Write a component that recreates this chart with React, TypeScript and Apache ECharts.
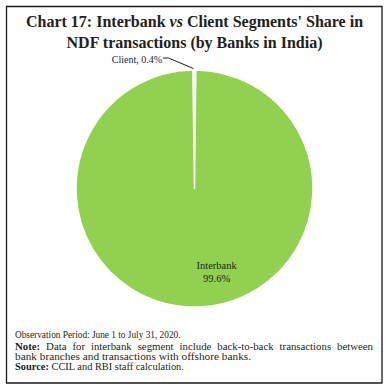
import React, { useEffect, useRef } from 'react';
import * as echarts from 'echarts';

const categories = ['Client', 'Interbank'];
const shares = [0.4, 99.6];
const sliceColors = ['#ffffff', '#92d050'];
const titleText = "Chart 17: Interbank {i|vs} Client Segments' Share in\nNDF transactions (by Banks in India)";
const noteLine1 = 'Observation Period: June 1 to July 31, 2020.';
const noteLead = 'Note:';
const noteLine2 = 'Data for interbank segment include back-to-back transactions between';
const noteLine3 = 'bank branches and transactions with offshore banks.';
const sourceLead = 'Source:';
const sourceText = 'CCIL and RBI staff calculation.';

const FONT = '"Liberation Serif", "DejaVu Serif", serif';
const INK = '#231f20';

function measure(text: string, weight: string, size: number) {
  const c = document.createElement('canvas').getContext('2d');
  if (!c) return text.length * size * 0.45;
  c.font = `${weight} ${size}px "Liberation Serif"`;
  return c.measureText(text).width;
}

export default function App() {
  const ref = useRef<HTMLDivElement>(null);
  useEffect(() => {
    if (!ref.current) return;
    const chart = echarts.init(ref.current, undefined, { renderer: 'svg' });
    const cx = 194.5, cy = 188.5, R = 118.5;
    const noteSize = 10.8;
    const LH = 9.5;
    const left = 15, right = 373;

    // justified second note line
    const words = [noteLead, ...noteLine2.split(' ')];
    const widths = words.map((w, i) => measure(w, i === 0 ? 'bold' : 'normal', noteSize));
    const total = widths.reduce((a, b) => a + b, 0);
    const gap = (right - left - total) / (words.length - 1);
    let xx = left;
    const justified = words.map((w, i) => {
      const el = {
        type: 'text',
        x: xx,
        y: 345.5,
        style: {
          text: w,
          font: `${i === 0 ? 'bold ' : ''}${noteSize}px ${FONT}`,
          fill: INK,
          textVerticalAlign: 'middle',
          lineHeight: LH,
        },
      };
      xx += widths[i] + gap;
      return el;
    });

    chart.setOption({
      animation: false,
      graphic: [
        {
          type: 'rect',
          shape: { x: 6.5, y: 6.5, width: 375.5, height: 376.5 },
          style: { fill: 'none', stroke: '#1a1a1a', lineWidth: 1.3 },
          silent: true,
        },
        {
          type: 'text',
          x: 194.5,
          y: 32,
          style: {
            text: titleText,
            font: `bold 16px ${FONT}`,
            fill: INK,
            textAlign: 'center',
            textVerticalAlign: 'middle',
            lineHeight: 21,
            rich: {
              i: { fontFamily: FONT, fontSize: 16, fontWeight: 'bold', fontStyle: 'italic', fill: INK, lineHeight: 21 },
            },
          },
        },
        {
          type: 'text',
          x: left,
          y: 335,
          style: { text: noteLine1, font: `9.3px ${FONT}`, fill: INK, textVerticalAlign: 'middle', lineHeight: LH },
        },
        ...justified,
        {
          type: 'text',
          x: left,
          y: 356,
          style: { text: noteLine3, font: `11.3px ${FONT}`, fill: INK, textVerticalAlign: 'middle', lineHeight: LH },
        },
        {
          type: 'text',
          x: left,
          y: 366.5,
          style: {
            text: `{b|${sourceLead}} ${sourceText}`,
            font: `10.4px ${FONT}`,
            fill: INK,
            textVerticalAlign: 'middle',
            lineHeight: LH,
            rich: { b: { fontWeight: 'bold', fontSize: 10.4, fontFamily: FONT, fill: INK, lineHeight: LH } },
          },
        },
      ],
      series: [
        {
          type: 'pie',
          center: [cx, cy],
          radius: R,
          startAngle: 90.8,
          clockwise: true,
          itemStyle: { borderColor: '#ffffff', borderWidth: 1.5 },
          label: { fontFamily: FONT, fontSize: 10.5, color: INK },
          labelLine: { lineStyle: { color: INK, width: 1 } },
          data: categories.map((name, i) => ({
            name,
            value: shares[i],
            itemStyle: { color: sliceColors[i] },
            label:
              i === 0
                ? { show: true, position: 'outside', formatter: `${name}, ${shares[i].toFixed(1)}%`, fontSize: 10 }
                : { show: true, position: 'inside', formatter: `${name}\n${shares[i].toFixed(1)}%`, lineHeight: 13 },
            labelLine: { show: i === 0, length: 10, length2: 6 },
          })),
          labelLayout: (params: any) => {
            if (params.dataIndex === 0) {
              const px = cx, py = cy - R;
              return {
                x: px - 32.5,
                y: py - 11,
                align: 'right',
                verticalAlign: 'middle',
                labelLinePoints: [
                  [px - 1, py - 1.5],
                  [px - 26, py - 12],
                  [px - 31.5, py - 12],
                ],
              };
            }
            return { dx: 22, dy: 21 };
          },
        },
      ],
    });
    return () => chart.dispose();
  }, []);
  return <div ref={ref} style={{ position: 'absolute', left: 0, top: 0, width: 389, height: 387 }} />;
}
